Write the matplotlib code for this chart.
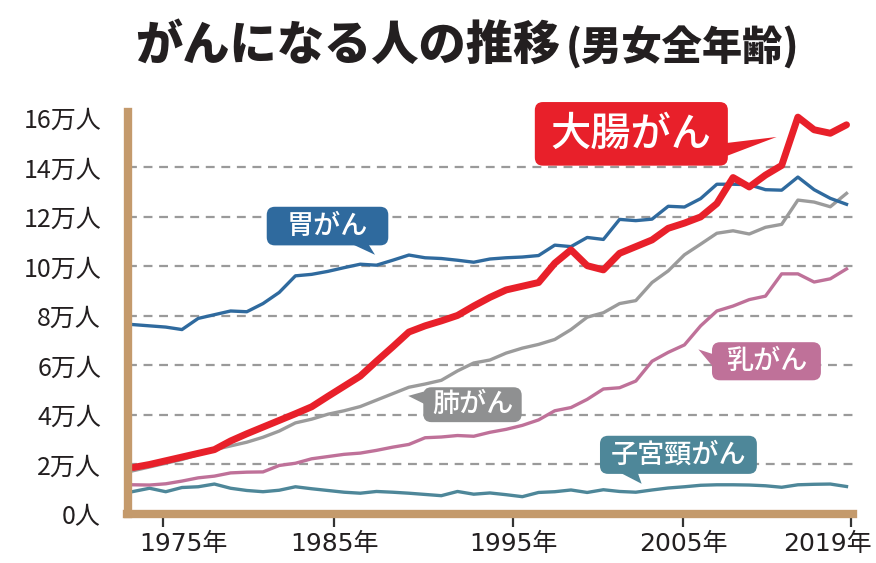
import matplotlib
matplotlib.use('Agg')
import matplotlib.pyplot as plt
import matplotlib.transforms as mtrans
from matplotlib.patches import FancyBboxPatch, Polygon

plt.rcParams['font.family'] = ['Noto Sans CJK JP', 'DejaVu Sans']

# ---------------- data (unit: 万人) ----------------
years = list(range(1975, 2020))
colorectal = [1.88, 2.0, 2.15, 2.3, 2.45, 2.6, 2.95, 3.24, 3.51, 3.78,
              4.05, 4.33, 4.75, 5.16, 5.57, 6.17, 6.75, 7.35, 7.6, 7.8,
              8.02, 8.4, 8.75, 9.05, 9.2, 9.35, 10.13, 10.67, 10.03, 9.86,
              10.53, 10.8, 11.07, 11.54, 11.75, 12.0, 12.54, 13.59, 13.21, 13.69,
              14.08, 16.03, 15.52, 15.38, 15.72]
stomach = [7.65, 7.6, 7.55, 7.45, 7.9, 8.05, 8.2, 8.17, 8.5, 8.95,
           9.62, 9.68, 9.8, 9.95, 10.09, 10.05, 10.25, 10.46, 10.35, 10.32,
           10.25, 10.17, 10.3, 10.35, 10.38, 10.44, 10.86, 10.8, 11.17, 11.09,
           11.9, 11.85, 11.91, 12.43, 12.4, 12.74, 13.32, 13.32, 13.3, 13.1,
           13.08, 13.61, 13.1, 12.75, 12.51]
lung = [1.75, 1.9, 2.05, 2.2, 2.4, 2.6, 2.75, 2.9, 3.1, 3.35,
        3.68, 3.83, 4.03, 4.17, 4.34, 4.6, 4.86, 5.12, 5.25, 5.4,
        5.78, 6.1, 6.22, 6.5, 6.7, 6.85, 7.05, 7.45, 7.95, 8.13,
        8.5, 8.62, 9.35, 9.82, 10.47, 10.9, 11.34, 11.44, 11.31, 11.58,
        11.7, 12.68, 12.6, 12.41, 12.95]
breast = [1.18, 1.17, 1.22, 1.33, 1.46, 1.53, 1.66, 1.69, 1.70, 1.96,
          2.05, 2.23, 2.32, 2.41, 2.46, 2.57, 2.7, 2.81, 3.08, 3.11,
          3.17, 3.14, 3.3, 3.42, 3.58, 3.8, 4.17, 4.3, 4.63, 5.05,
          5.1, 5.37, 6.17, 6.53, 6.83, 7.6, 8.2, 8.4, 8.66, 8.8,
          9.7, 9.7, 9.37, 9.5, 9.9]
cervix = [0.91, 1.04, 0.9, 1.07, 1.1, 1.21, 1.04, 0.95, 0.9, 0.96,
          1.1, 1.02, 0.95, 0.88, 0.84, 0.91, 0.88, 0.84, 0.79, 0.74,
          0.91, 0.8, 0.85, 0.78, 0.7, 0.87, 0.9, 0.97, 0.87, 0.98,
          0.91, 0.88, 0.97, 1.05, 1.1, 1.16, 1.18, 1.18, 1.17, 1.14,
          1.08, 1.18, 1.2, 1.21, 1.11]

series_names = ['子宮頸がん', '乳がん', '肺がん', '胃がん', '大腸がん']

ytick_vals = [0, 2, 4, 6, 8, 10, 12, 14, 16]
ytick_labels = ['0人', '2万人', '4万人', '6万人', '8万人', '10万人', '12万人', '14万人', '16万人']
xtick_labels = ['1975年', '1985年', '1995年', '2005年', '2019年']

title_main = 'がんになる人の推移'
title_sub = '(男女全年齢)'

# ---------------- styling ----------------
C_RED = '#E8202A'
C_BLUE = '#2F6A9E'
C_GRAY = '#9B9B9B'
C_GRAYBOX = '#8F9091'
C_PINK = '#BF7199'
C_TEAL = '#4E8799'
C_BROWN = '#C49A6C'
C_TEXT = '#231F20'

xtick_pos = [1976.85, 1987.4, 1998.44, 2008.93, 2019.27]

fig = plt.figure(figsize=(8.76, 5.63), dpi=100)
ax = fig.add_axes([127.5 / 876, 1 - 514 / 563, 725.5 / 876, 402.3 / 563])

ax.plot(years, cervix, color=C_TEAL, lw=2.4, solid_joinstyle='round', zorder=3)
ax.plot(years, breast, color=C_PINK, lw=2.4, solid_joinstyle='round', zorder=3)
ax.plot(years, lung, color=C_GRAY, lw=2.4, solid_joinstyle='round', zorder=3)
ax.plot(years, stomach, color=C_BLUE, lw=2.4, solid_joinstyle='round', zorder=4)
ax.plot(years, colorectal, color=C_RED, lw=5.0, solid_joinstyle='round',
        solid_capstyle='round', zorder=5)

ax.set_xlim(1974.64, 2019.40)
ax.set_ylim(0.05, 16.25)

ax.set_yticks(ytick_vals)
ax.set_yticklabels(ytick_labels, fontsize=18, color=C_TEXT)
ax.tick_params(axis='y', length=0, pad=19)
ax.set_xticks(xtick_pos)
ax.set_xticklabels(xtick_labels, fontsize=18, color=C_TEXT,
                   family=['DejaVu Sans', 'Noto Sans CJK JP'])
ax.tick_params(axis='x', length=9, width=1.6, color='#333333', pad=4, direction='out')

xl = ax.get_xticklabels()
xl[0].set_horizontalalignment('left')
xl[0].set_transform(xl[0].get_transform() +
                    mtrans.ScaledTranslation(-24 / 100, 0, fig.dpi_scale_trans))
xl[-1].set_horizontalalignment('right')
xl[-1].set_transform(xl[-1].get_transform() +
                     mtrans.ScaledTranslation(21 / 100, 0, fig.dpi_scale_trans))

ax.yaxis.grid(True, color='#9A9A9A', lw=1.6, linestyle=(0, (4, 3)))
gl = ax.yaxis.get_gridlines()
gl[0].set_visible(False)
gl[-1].set_visible(False)
ax.set_axisbelow(True)

for s in ['top', 'right']:
    ax.spines[s].set_visible(False)
for s in ['left', 'bottom']:
    ax.spines[s].set_color(C_BROWN)
    ax.spines[s].set_linewidth(6)
    ax.spines[s].set_zorder(6)

# ---------------- callouts ----------------
ASPECT = 0.657


def callout(text, x0, x1, y0, y1, tri, color, fs, r=0.5):
    box = FancyBboxPatch((x0, y0), x1 - x0, y1 - y0,
                         boxstyle=f'round,pad=0,rounding_size={r}',
                         mutation_aspect=ASPECT, fc=color, ec='none',
                         clip_on=False, zorder=8)
    ax.add_patch(box)
    ax.add_patch(Polygon(tri, closed=True, fc=color, ec='none', clip_on=False, zorder=8))
    ax.text((x0 + x1) / 2, (y0 + y1) / 2, text, color='white', fontsize=fs,
            ha='center', va='center', zorder=9, clip_on=False, fontweight='medium')


callout(series_names[4], 1999.77, 2011.68, 14.07, 16.64,
        [(2011.4, 14.97), (2011.4, 14.41), (2014.69, 15.23)], C_RED, 29)
callout(series_names[3], 1983.23, 1990.73, 10.85, 12.41,
        [(1988.5, 10.9), (1989.5, 10.9), (1989.91, 10.47)], C_BLUE, 19.5)
callout(series_names[2], 1992.89, 1998.96, 3.71, 5.12,
        [(1993.0, 4.96), (1993.0, 4.43), (1991.96, 4.77)], C_GRAYBOX, 19.5)
callout(series_names[1], 2010.70, 2017.42, 5.40, 6.94,
        [(2010.8, 6.45), (2010.8, 5.92), (2009.86, 6.65)], C_PINK, 19.5)
callout(series_names[0], 2003.79, 2013.47, 1.62, 3.16,
        [(2005.03, 1.67), (2006.12, 1.67), (2006.36, 1.22)], C_TEAL, 19.5)

# ---------------- title ----------------
t1 = fig.text(135 / 876, 1 - 46 / 563, title_main, fontsize=34, fontweight='heavy',
              color=C_TEXT, va='center', ha='left')
fig.canvas.draw()
bb = t1.get_window_extent()
fig.text(bb.x1 / 876 + 0.006, 1 - 48 / 563, title_sub, fontsize=29, fontweight='heavy',
         color=C_TEXT, va='center', ha='left')

fig.savefig('out.png', dpi=100)
